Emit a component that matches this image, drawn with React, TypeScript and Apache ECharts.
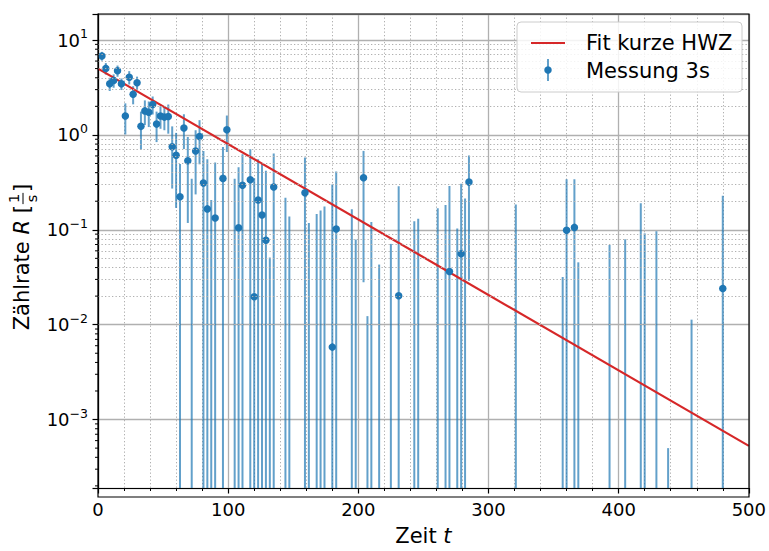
import React, { useEffect, useRef } from 'react';
import * as echarts from 'echarts';

// Measurement times (s)
const times = [
  3, 6, 9, 12, 15, 18, 21, 24, 27, 30,
  33, 36, 39, 42, 45, 48, 51, 54, 57, 60,
  63, 66, 69, 72, 75, 78, 81, 84, 87, 90,
  96, 99,
  105, 108, 111, 117, 120, 123, 126, 129, 132, 135,
  144, 147, 159, 162, 168, 171, 174, 180, 183, 195,
  198, 204, 207, 210, 216, 225, 231, 243, 246, 261,
  267, 270, 276, 279, 282, 285, 321, 357, 360, 366,
  369, 393, 405, 417, 420, 429, 438, 456, 480,
];
// Count rate (null = negative, not drawable on log axis)
const rates: (number | null)[] = [
  6.78, 5.02, 3.45, 3.74, 4.74, 3.45, 1.58, 4.05, 2.68, 3.54,
  1.23, 1.79, 1.73, 2.09, 1.3, 1.58, 1.54, 1.56, 0.751, 0.61,
  0.223, 1.18, 0.534, null, 0.678, 0.96, 0.311, 0.166, null, 0.133,
  0.348, 1.13,
  null, 0.105, 0.294, 0.337, 0.0197, 0.206, 0.143, 0.0775, null, 0.283,
  null, null, 0.245, null, null, null, null, 0.0058, 0.102, null,
  null, 0.353, null, null, null, null, 0.0202, null, null, null,
  null, 0.0364, null, 0.0559, null, 0.318, null, null, 0.099, 0.106,
  null, null, null, null, null, null, null, null, 0.0241,
];
// Upper end of the error bar (rate + error)
const uppers = [
  7.5, 5.72, 4.0, 4.34, 5.38, 3.93, 2.15, 4.7, 3.26, 4.11,
  1.76, 2.31, 2.25, 2.54, 1.76, 2.0, 1.96, 2.09, 1.23, 1.05,
  0.493, 1.65, 0.95, 0.345, 1.12, 1.43, 0.678, 0.555, 0.206, 0.513,
  0.746, 1.6,
  0.345, 0.455, 0.625, 0.705, 0.35, 0.555, 0.493, 0.42, 0.051, 0.636,
  0.217, 0.138, 0.578, 0.118, 0.147, 0.16, 0.176, 0.3, 0.411, 0.165,
  0.079, 0.678, 0.0123, 0.121, 0.043, 0.071, 0.287, 0.123, 0.131, 0.169,
  0.183, 0.29, 0.103, 0.306, 0.214, 0.607, 0.185, 0.0318, 0.34, 0.34,
  0.0454, 0.0693, 0.0794, 0.19, 0.0916, 0.0968, 0.0005, 0.0113, 0.228,
];

// Exponential fit (short half-life)
const fitAmplitude = 5.0;
const fitDecay = 0.01831;
const fitRange = [0, 500];

const xMin = 0;
const xMax = 500;
const xInterval = 100;
const yMin = 1.9e-4;
const yMax = 18.8;
const minorMultipliers = [2, 3, 4, 5, 6, 7, 8, 9];
const minorDecades = [-4, -3, -2, -1, 0, 1];

const FONT = '"DejaVu Sans", sans-serif';
const BLUE = '#1f77b4';
const RED = '#d62728';
const TICK_FS = 18;
const LABEL_FS = 21;

function measure(text: string, size: number, italic = false) {
  const c = document.createElement('canvas').getContext('2d');
  if (!c) return text.length * size * 0.6;
  c.font = `${italic ? 'italic ' : ''}${size}px "DejaVu Sans"`;
  return c.measureText(text).width;
}

function supLabel(v: number) {
  const lg = Math.log10(v);
  const e = Math.round(lg);
  if (Math.abs(lg - e) > 1e-6) return '';
  const exp = e < 0 ? '\u2212' + -e : String(e);
  return `{b|10}{s|${exp}}`;
}

export default function App() {
  const ref = useRef<HTMLDivElement>(null);
  useEffect(() => {
    if (!ref.current) return;
    const chart = echarts.init(ref.current, undefined, { renderer: 'svg' });

    const minorVals: number[] = [];
    minorDecades.forEach((k) =>
      minorMultipliers.forEach((m) => {
        const v = m * Math.pow(10, k);
        if (v > yMin && v < yMax) minorVals.push(v);
      })
    );

    const errData = times.map((t, i) => {
      const r = rates[i];
      const lo = r != null ? 2 * r - uppers[i] : -1;
      return [t, uppers[i], lo];
    });
    const dotData = times
      .map((t, i) => (rates[i] != null ? [t, rates[i] as number] : null))
      .filter((d) => d != null);
    const fitData = fitRange.map((t) => [t, fitAmplitude * Math.exp(-fitDecay * t)]);

    // y-axis label group (rotated)
    const wA = measure('Zählrate ', LABEL_FS);
    const wR = measure('R', LABEL_FS, true);
    const wB = measure(' [', LABEL_FS);
    const fracFs = 14.5;
    const fw = Math.max(measure('1', fracFs), measure('s', fracFs)) + 2;
    const wC = measure(']', LABEL_FS);
    const W = wA + wR + wB + fw + 2 + wC;
    let cx = -W / 2;
    const lblStyle = { fontSize: LABEL_FS, fontFamily: FONT, fill: '#000', verticalAlign: 'middle', align: 'left' };
    const yLabelChildren: any[] = [];
    yLabelChildren.push({ type: 'text', x: cx, y: 0, style: { ...lblStyle, text: 'Zählrate ' } });
    cx += wA;
    yLabelChildren.push({ type: 'text', x: cx, y: 0, style: { ...lblStyle, text: 'R', fontStyle: 'italic' } });
    cx += wR;
    yLabelChildren.push({ type: 'text', x: cx, y: 0, style: { ...lblStyle, text: ' [' } });
    cx += wB;
    const fx0 = cx + 1;
    yLabelChildren.push({ type: 'line', shape: { x1: fx0, y1: 1, x2: fx0 + fw, y2: 1 }, style: { stroke: '#000', lineWidth: 1 } });
    yLabelChildren.push({ type: 'text', x: fx0 + fw / 2, y: -0.5, style: { text: '1', fontSize: fracFs, fontFamily: FONT, fill: '#000', align: 'center', verticalAlign: 'bottom' } });
    yLabelChildren.push({ type: 'text', x: fx0 + fw / 2, y: 2, style: { text: 's', fontSize: fracFs, fontFamily: FONT, fill: '#000', align: 'center', verticalAlign: 'top' } });
    cx += fw + 2;
    yLabelChildren.push({ type: 'text', x: cx, y: 0, style: { ...lblStyle, text: ']' } });

    const gridLeft = 98;
    const gridTop = 14;
    const gridRight = 20;
    const gridBottom = 54;

    chart.setOption({
      animation: false,
      backgroundColor: '#fff',
      grid: { left: gridLeft, right: gridRight, top: gridTop, bottom: gridBottom, containLabel: false },
      xAxis: {
        type: 'value',
        min: xMin,
        max: xMax,
        interval: xInterval,
        axisLine: { show: true, onZero: false, lineStyle: { color: '#000', width: 1.2 } },
        axisTick: { show: true, length: 5.5, lineStyle: { color: '#000', width: 1.2 } },
        minorTick: { show: true, splitNumber: 5, length: 3, lineStyle: { color: '#000', width: 1 } },
        splitLine: { show: true, lineStyle: { color: '#b0b0b0', width: 1.3 } },
        minorSplitLine: { show: true, lineStyle: { color: '#b0b0b0', width: 1, type: [1.3, 2.2] } },
        axisLabel: { fontSize: TICK_FS, fontFamily: FONT, color: '#000', margin: 12 },
        name: '{n|Zeit }{i|t}',
        nameLocation: 'middle',
        nameGap: 37,
        nameTextStyle: {
          rich: {
            n: { fontSize: LABEL_FS, fontFamily: FONT, color: '#000' },
            i: { fontSize: LABEL_FS, fontFamily: FONT, color: '#000', fontStyle: 'italic' },
          },
        },
      },
      yAxis: {
        type: 'log',
        logBase: 10,
        min: yMin,
        max: yMax,
        splitNumber: 5,
        axisLine: { show: true, lineStyle: { color: '#000', width: 1.2 } },
        axisTick: { show: true, length: 5.5, lineStyle: { color: '#000', width: 1.2 } },
        splitLine: { show: true, lineStyle: { color: '#b0b0b0', width: 1.3 } },
        axisLabel: {
          margin: 10,
          formatter: (v: number) => supLabel(v),
          rich: {
            b: { fontSize: TICK_FS, fontFamily: FONT, color: '#000', lineHeight: 26 },
            s: { fontSize: 12.5, fontFamily: FONT, color: '#000', lineHeight: 14, verticalAlign: 'top' },
          },
        },
      },
      series: [
        {
          type: 'custom',
          name: 'minorTicks',
          z: 1,
          silent: true,
          clip: false,
          data: minorVals.map((v) => [xMin, v]),
          encode: { x: 0, y: 1 },
          renderItem: (params: any, api: any) => {
            const p = api.coord([api.value(0), api.value(1)]);
            const x0 = params.coordSys.x;
            return {
              type: 'line',
              shape: { x1: x0 - 3, y1: p[1], x2: x0, y2: p[1] },
              style: { stroke: '#000', lineWidth: 1 },
            };
          },
          markLine: {
            silent: true,
            symbol: ['none', 'none'],
            label: { show: false },
            lineStyle: { color: '#b0b0b0', width: 1, type: [1.3, 2.2] },
            data: minorVals.map((v) => ({ yAxis: v })),
          },
        },
        {
          type: 'custom',
          name: 'Messung 3s errors',
          z: 2,
          silent: true,
          data: errData,
          encode: { x: 0, y: 1 },
          renderItem: (params: any, api: any) => {
            const t = api.value(0);
            const up = api.value(1);
            const lo = api.value(2);
            const cs = params.coordSys;
            const bottom = cs.y + cs.height;
            const top = api.coord([t, up]);
            let y2 = bottom;
            if (lo > 0) y2 = Math.min(bottom, api.coord([t, lo])[1]);
            return {
              type: 'line',
              shape: { x1: top[0], y1: Math.max(cs.y, top[1]), x2: top[0], y2 },
              style: { stroke: BLUE, lineWidth: 2, opacity: 0.7 },
            };
          },
        },
        {
          type: 'line',
          name: 'Fit kurze HWZ',
          z: 3,
          data: fitData,
          showSymbol: false,
          symbol: 'none',
          lineStyle: { color: RED, width: 2.2 },
        },
        {
          type: 'scatter',
          name: 'Messung 3s',
          z: 4,
          data: dotData,
          symbol: 'circle',
          symbolSize: 7.5,
          itemStyle: { color: BLUE, opacity: 1 },
        },
      ],
      graphic: [
        {
          type: 'rect',
          z: 100,
          silent: true,
          shape: { x: gridLeft, y: gridTop, width: 769 - gridLeft - gridRight, height: 551 - gridTop - gridBottom },
          style: { fill: 'none', stroke: '#000', lineWidth: 1.2 },
        },
        {
          type: 'rect',
          z: 101,
          shape: { x: 517, y: 22, width: 225, height: 70, r: 4 },
          style: { fill: 'rgba(255,255,255,0.85)', stroke: '#cccccc', lineWidth: 1 },
        },
        { type: 'line', z: 102, shape: { x1: 531, y1: 43, x2: 565, y2: 43 }, style: { stroke: RED, lineWidth: 2.2 } },
        {
          type: 'text',
          z: 102,
          x: 586,
          y: 43,
          style: { text: 'Fit kurze HWZ', fontSize: LABEL_FS, fontFamily: FONT, fill: '#000', verticalAlign: 'middle' },
        },
        { type: 'line', z: 102, shape: { x1: 548, y1: 59, x2: 548, y2: 81 }, style: { stroke: BLUE, lineWidth: 2, opacity: 0.7 } },
        { type: 'circle', z: 103, shape: { cx: 548, cy: 70, r: 3.75 }, style: { fill: BLUE } },
        {
          type: 'text',
          z: 102,
          x: 586,
          y: 71,
          style: { text: 'Messung 3s', fontSize: LABEL_FS, fontFamily: FONT, fill: '#000', verticalAlign: 'middle' },
        },
        {
          type: 'group',
          x: 22,
          y: 257,
          rotation: Math.PI / 2,
          children: yLabelChildren,
        },
      ],
    });
    return () => chart.dispose();
  }, []);
  return <div ref={ref} style={{ position: 'fixed', left: 0, top: 0, width: 769, height: 551 }} />;
}
